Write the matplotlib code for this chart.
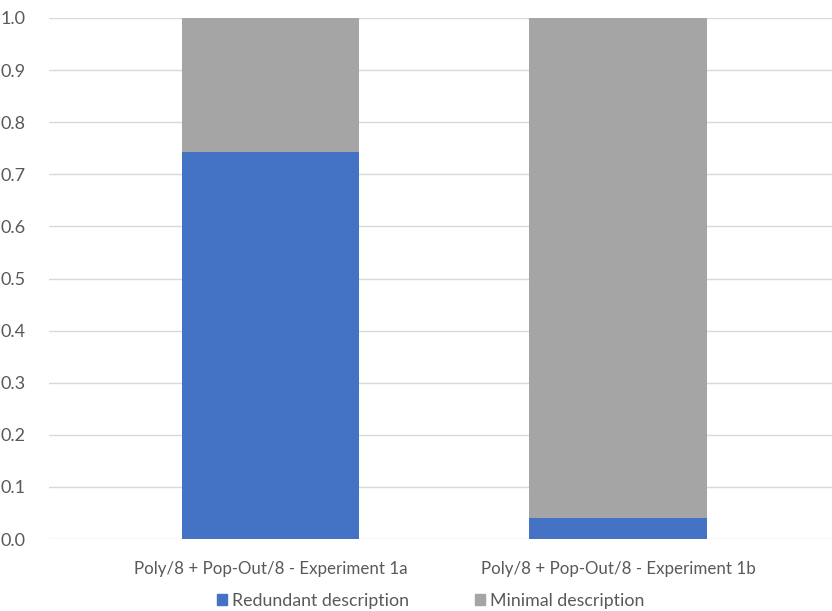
import matplotlib
matplotlib.use("Agg")
import matplotlib.pyplot as plt
from matplotlib.patches import Patch

# Datos del gráfico
categories = ["Poly/8 + Pop-Out/8 - Experiment 1a", "Poly/8 + Pop-Out/8 - Experiment 1b"]
redundant = [0.743, 0.041]
minimal = [0.257, 0.959]
series_names = ["Redundant description", "Minimal description"]

BLUE = "#4472C4"
GRAY = "#A5A5A5"
TEXT = "#595959"

plt.rcParams["font.family"] = ["Lato", "DejaVu Sans"]

fig = plt.figure(figsize=(8.32, 6.11), dpi=100)
ax = fig.add_axes([49 / 832, 1 - 539 / 611, 1 - 49 / 832, (539 - 18) / 611])

x = list(range(len(categories)))
ax.bar(x, redundant, width=0.51, color=BLUE, zorder=3)
ax.bar(x, minimal, width=0.51, bottom=redundant, color=GRAY, zorder=3)

ax.set_xlim(-0.637, 1.616)
ax.set_ylim(0, 1.0)
ax.set_yticks([i / 10 for i in range(11)])
ax.set_yticklabels([f"{i / 10:.1f}" for i in range(11)])
ax.set_xticks(x)
ax.set_xticklabels(categories)

ax.grid(axis="y", color="#D9D9D9", linewidth=1.0, zorder=0)
for s in ax.spines.values():
    s.set_visible(False)
ax.tick_params(axis="both", length=0, colors=TEXT)
ax.tick_params(axis="y", labelsize=13, pad=17)
ax.tick_params(axis="x", labelsize=12.2, pad=16)

handles = [Patch(color=BLUE), Patch(color=GRAY)]
fig.legend(handles, series_names, loc="center", bbox_to_anchor=(431 / 832, 1 - 601 / 611),
           ncol=2, frameon=False, fontsize=12.8, labelcolor=TEXT,
           handlelength=0.55, handleheight=0.55, handletextpad=0.3, columnspacing=3.7,
           borderpad=0, borderaxespad=0)

fig.savefig("out.png", dpi=100)
